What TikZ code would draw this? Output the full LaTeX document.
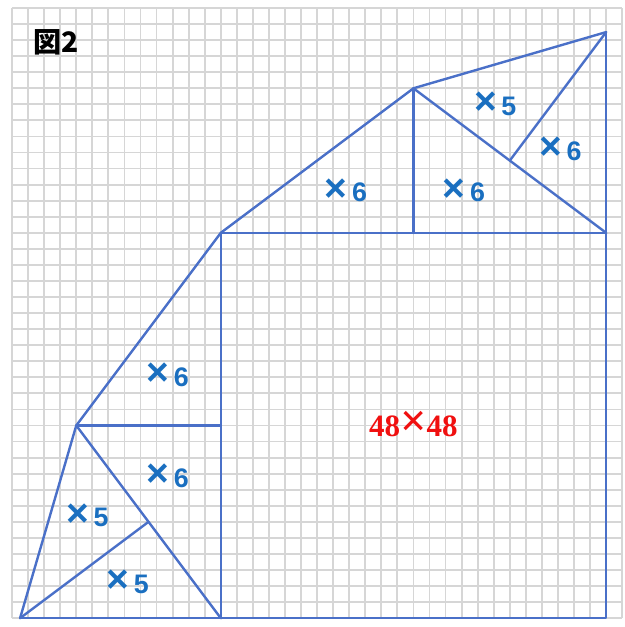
\documentclass[tikz,border=0pt]{standalone}
\usepackage{fontspec}
\setmainfont{Liberation Sans}
\newfontfamily\jpfont{Noto Sans CJK JP}[BoldFont={* Black}]
\newfontfamily\serifbold{Liberation Serif}
\definecolor{gridgray}{HTML}{D6D6D6}
\definecolor{lineblue}{HTML}{4A70C8}
\definecolor{labelblue}{HTML}{1A6FC0}
\definecolor{labelred}{HTML}{F01010}
\newcommand{\tms}{\raisebox{0.5pt}{\scalebox{1.45}{×}}}
\newcommand{\rtms}{\raisebox{0.3pt}{\scalebox{1.5}{×}}}
\tikzset{
  edge/.style={draw=lineblue, line width=1.7pt, line join=round, line cap=round},
  lbl/.style={text=labelblue, font=\fontsize{19}{19}\selectfont\bfseries, inner sep=0pt},
}
\begin{document}
\begin{tikzpicture}[x=0.2cm,y=0.2cm]
\useasboundingbox (-27.5,-1.1) rectangle (50.25,77);
\fill[white] (-27.5,-1.1) rectangle (50.25,77);
\foreach \gx in {-26,-24,...,50} \draw[gridgray, line width=1.3pt] (\gx,0) -- (\gx,76);
\foreach \gy in {0,2,...,76} \draw[gridgray, line width=1.3pt] (-26,\gy) -- (50,\gy);
% points
\coordinate (A) at (-25,0);
\coordinate (B) at (0,0);
\coordinate (C) at (48,0);
\coordinate (D) at (48,48);
\coordinate (E) at (0,48);
\coordinate (F) at (-18,24);
\coordinate (G) at (0,24);
\coordinate (H) at (-9,12);
\coordinate (I) at (24,66);
\coordinate (J) at (24,48);
\coordinate (K) at (48,73);
\coordinate (L) at (36,57);
% lines
\draw[edge] (A) -- (B) -- (C) -- (D) -- (K);
\draw[edge] (D) -- (E) -- (B);
\draw[edge] (A) -- (F) -- (E) -- (I) -- (K);
\draw[edge] (F) -- (G);
\draw[edge] (F) -- (B);
\draw[edge] (A) -- (H);
\draw[edge] (I) -- (J);
\draw[edge] (I) -- (D);
\draw[edge] (K) -- (L);
% labels
\node[lbl] (l1) at (15.6,53.3) {\tms\,6};
\node[lbl] (l2) at (30.3,53.3) {\tms\,6};
\node[lbl] (l3) at (34.2,64.1) {\tms\,5};
\node[lbl] (l4) at (42.3,58.5) {\tms\,6};
\node[lbl] (l5) at (-6.6,30.3) {\tms\,6};
\node[lbl] (l6) at (-6.6,17.7) {\tms\,6};
\node[lbl] (l7) at (-16.6,12.8) {\tms\,5};
\node[lbl] (l8) at (-11.6,4.5) {\tms\,5};
\node[text=labelred, font=\fontsize{22}{22}\selectfont\serifbold\bfseries, inner sep=0pt] (sq) at (24,24.2) {48\rtms48};
\node[font=\fontsize{20}{20}\selectfont\jpfont\bfseries, inner sep=0pt] (title) at (-20.5,71.7) {図2};
\end{tikzpicture}
\end{document}
